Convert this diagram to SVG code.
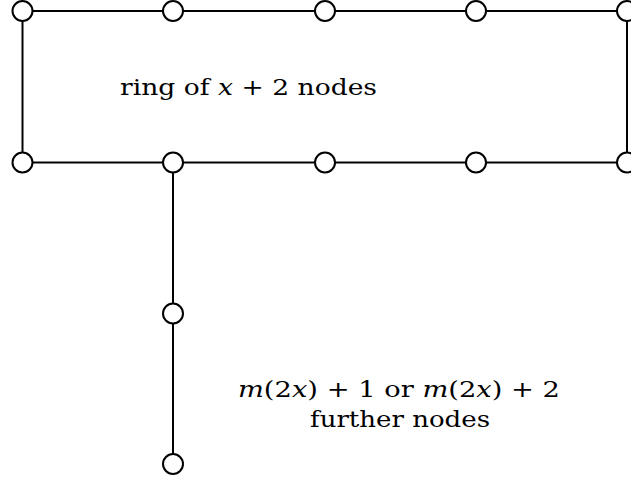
<svg xmlns="http://www.w3.org/2000/svg" width="631" height="479" viewBox="0 0 631 479">
<style>
.edge{stroke:#000;stroke-width:2;fill:none}
.node{fill:#fff;stroke:#000;stroke-width:2}
.lbl{font-family:"DejaVu Serif","Liberation Serif",serif;font-size:23px;fill:#000}
.it{font-style:italic}
</style>
<rect width="631" height="479" fill="#fff"/>
<g id="connectors">
<line class="edge" x1="22.5" y1="11" x2="627" y2="11"/>
<line class="edge" x1="22.5" y1="162.5" x2="627" y2="162.5"/>
<line class="edge" x1="22.5" y1="11" x2="22.5" y2="162.5"/>
<line class="edge" x1="627" y1="11" x2="627" y2="162.5"/>
<line class="edge" x1="173" y1="162.5" x2="173" y2="464"/>
</g>
<g id="n1"><circle class="node" cx="22.5" cy="11" r="10"/></g>
<g id="n2"><circle class="node" cx="173" cy="11" r="10"/></g>
<g id="n3"><circle class="node" cx="325" cy="11" r="10"/></g>
<g id="n4"><circle class="node" cx="476" cy="11" r="10"/></g>
<g id="n5"><circle class="node" cx="627" cy="11" r="10"/></g>
<g id="n6"><circle class="node" cx="22.5" cy="162.5" r="10"/></g>
<g id="n7"><circle class="node" cx="173" cy="162.5" r="10"/></g>
<g id="n8"><circle class="node" cx="325" cy="162.5" r="10"/></g>
<g id="n9"><circle class="node" cx="476" cy="162.5" r="10"/></g>
<g id="n10"><circle class="node" cx="627" cy="162.5" r="10"/></g>
<g id="n11"><circle class="node" cx="173" cy="313.5" r="10"/></g>
<g id="n12"><circle class="node" cx="173" cy="464" r="10"/></g>
<g id="labels">
<text class="lbl" x="120" y="95" textLength="257" lengthAdjust="spacingAndGlyphs">ring of <tspan class="it">x</tspan> + 2 nodes</text>
<text class="lbl" x="238" y="397" textLength="322" lengthAdjust="spacingAndGlyphs"><tspan class="it">m</tspan>(2<tspan class="it">x</tspan>) + 1 or <tspan class="it">m</tspan>(2<tspan class="it">x</tspan>) + 2</text>
<text class="lbl" x="310" y="427" textLength="180" lengthAdjust="spacingAndGlyphs">further nodes</text>
</g>
</svg>
